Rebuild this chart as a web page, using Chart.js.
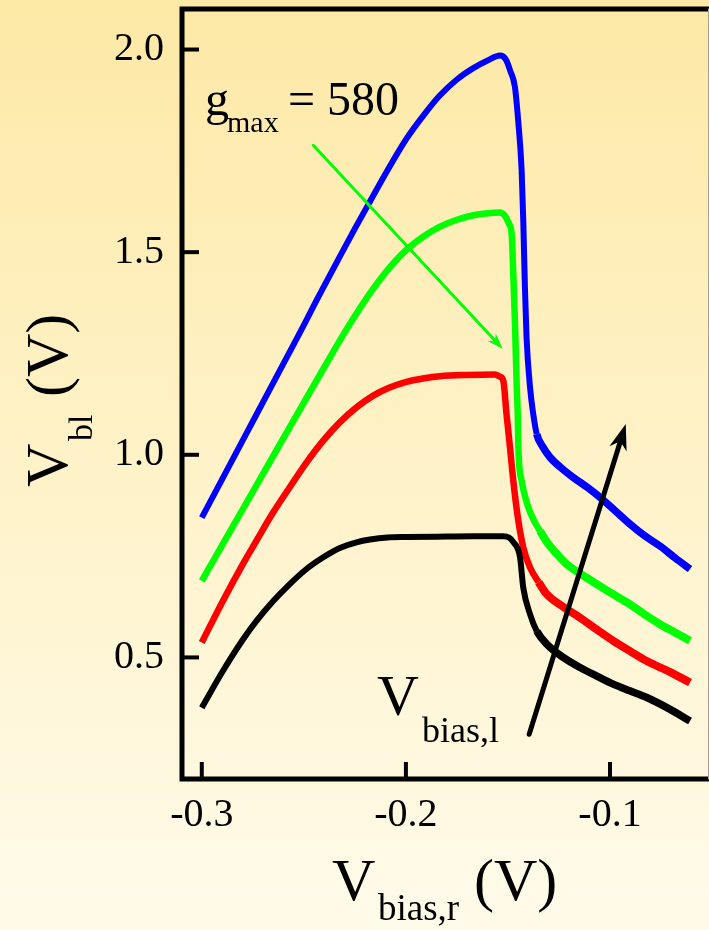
<!DOCTYPE html>
<html>
<head>
<meta charset="utf-8">
<script src="https://cdn.jsdelivr.net/npm/chart.js@4.4.1/dist/chart.umd.min.js"></script>
<style>
  html, body { margin: 0; padding: 0; background: #fff6d8; }
  canvas { display: block; }
</style>
</head>
<body>
<canvas id="c" width="709" height="930"></canvas>
<script>
// V_bl vs V_bias,r for four values of V_bias,l (black -> red -> green -> blue)
var xTicks = [-0.3, -0.2, -0.1];
var yTicks = [0.5, 1.0, 1.5, 2.0];

var blackX = [-0.3000,-0.2896,-0.2800,-0.2732,-0.2650,-0.2569,-0.2490,-0.2405,-0.2324,-0.2242,-0.2176,-0.2090,-0.1997,-0.1850,-0.1670,-0.1523,-0.1495,-0.1474,-0.1441,-0.1425,-0.1392,-0.1359,-0.1310,-0.1229,-0.1147,-0.1065,-0.0984,-0.0900,-0.0820,-0.0710,-0.0608];
var blackY = [0.376,0.467,0.543,0.590,0.639,0.681,0.717,0.747,0.770,0.784,0.791,0.796,0.797,0.798,0.799,0.799,0.796,0.785,0.747,0.672,0.607,0.565,0.533,0.500,0.475,0.454,0.434,0.417,0.401,0.373,0.343];

var redX = [-0.3000,-0.2896,-0.2800,-0.2732,-0.2650,-0.2569,-0.2490,-0.2405,-0.2324,-0.2242,-0.2160,-0.2080,-0.1997,-0.1910,-0.1833,-0.1700,-0.1564,-0.1540,-0.1523,-0.1507,-0.1490,-0.1474,-0.1453,-0.1425,-0.1392,-0.1350,-0.1310,-0.1230,-0.1147,-0.1065,-0.0984,-0.0900,-0.0820,-0.0710,-0.0608];
var redY = [0.537,0.640,0.729,0.788,0.858,0.920,0.979,1.035,1.080,1.117,1.146,1.166,1.180,1.189,1.194,1.197,1.198,1.193,1.183,1.100,1.018,0.936,0.850,0.771,0.722,0.686,0.656,0.625,0.598,0.569,0.541,0.515,0.491,0.465,0.438];

var greenX = [-0.3000,-0.2900,-0.2800,-0.2700,-0.2600,-0.2500,-0.2400,-0.2300,-0.2230,-0.2160,-0.2080,-0.1997,-0.1910,-0.1833,-0.1750,-0.1670,-0.1600,-0.1540,-0.1515,-0.1495,-0.1482,-0.1474,-0.1466,-0.1457,-0.1452,-0.1449,-0.1433,-0.1400,-0.1370,-0.1343,-0.1310,-0.1260,-0.1212,-0.1140,-0.1065,-0.0985,-0.0902,-0.0830,-0.0755,-0.0680,-0.0608];
var greenY = [0.689,0.777,0.865,0.953,1.041,1.129,1.216,1.302,1.358,1.410,1.462,1.506,1.540,1.563,1.580,1.591,1.596,1.598,1.590,1.570,1.545,1.447,1.331,1.167,1.100,1.018,0.936,0.870,0.835,0.812,0.785,0.755,0.730,0.705,0.681,0.656,0.631,0.606,0.582,0.561,0.541];

var blueX = [-0.3000,-0.2900,-0.2800,-0.2700,-0.2600,-0.2500,-0.2438,-0.2324,-0.2250,-0.2176,-0.2090,-0.1997,-0.1910,-0.1833,-0.1750,-0.1670,-0.1600,-0.1539,-0.1510,-0.1490,-0.1466,-0.1450,-0.1433,-0.1425,-0.1417,-0.1409,-0.1392,-0.1376,-0.1359,-0.1330,-0.1294,-0.1240,-0.1180,-0.1110,-0.1049,-0.0975,-0.0902,-0.0830,-0.0750,-0.0680,-0.0608];
var blueY = [0.845,0.940,1.035,1.130,1.225,1.320,1.381,1.489,1.558,1.625,1.702,1.780,1.840,1.887,1.926,1.954,1.973,1.985,1.975,1.949,1.908,1.825,1.702,1.578,1.414,1.290,1.167,1.100,1.051,1.020,0.994,0.968,0.944,0.919,0.895,0.862,0.829,0.800,0.773,0.745,0.718];

// arrows in data coordinates: [x0, y0, x1, y1]
var gArrow = [-0.2454, 1.7636, -0.1526, 1.2614];
var vArrow = [-0.1396, 0.3103, -0.0923, 1.076];

function pts(xs, ys) {
    var out = [];
    for (var i = 0; i < xs.length; i++) out.push({x: xs[i], y: ys[i]});
    return out;
}

function ds(xs, ys, color, w) {
    return {
        data: pts(xs, ys),
        showLine: true,
        borderColor: color,
        backgroundColor: color,
        borderWidth: w,
        pointRadius: 0,
        cubicInterpolationMode: 'monotone',
        borderJoinStyle: 'round',
        // the noisy tails look thicker in the original
        segment: {
            borderWidth: function(c) { return c.p0.parsed.x > -0.137 ? w + 1.5 : w; }
        }
    };
}

var SERIF = '"Liberation Serif", "Times New Roman", serif';

function arrow(ctx, x0, y0, x1, y1, w, headLen, headW, color) {
    var a = Math.atan2(y1 - y0, x1 - x0);
    ctx.save();
    ctx.strokeStyle = color;
    ctx.fillStyle = color;
    ctx.lineWidth = w;
    ctx.lineCap = 'round';
    ctx.beginPath();
    ctx.moveTo(x0, y0);
    ctx.lineTo(x1 - Math.cos(a) * headLen * 0.6, y1 - Math.sin(a) * headLen * 0.6);
    ctx.stroke();
    ctx.translate(x1, y1);
    ctx.rotate(a);
    ctx.beginPath();
    ctx.moveTo(0, 0);
    ctx.lineTo(-headLen, headW / 2);
    ctx.lineTo(-headLen * 0.7, 0);
    ctx.lineTo(-headLen, -headW / 2);
    ctx.closePath();
    ctx.fill();
    ctx.restore();
}

function noEdgePadding(s) {
    s.paddingTop = 0;
    s.paddingBottom = 0;
    s.paddingLeft = 0;
    s.paddingRight = 0;
}

var decor = {
    id: 'decor',
    beforeDraw: function(chart) {
        var ctx = chart.ctx;
        var g = ctx.createLinearGradient(0, 0, 0, chart.height);
        g.addColorStop(0, '#fde9a6');
        g.addColorStop(1, '#fffbea');
        ctx.save();
        ctx.fillStyle = g;
        ctx.fillRect(0, 0, chart.width, chart.height);
        ctx.restore();
    },
    afterDraw: function(chart) {
        var ctx = chart.ctx;
        var a = chart.chartArea;
        var xs = chart.scales.x, ys = chart.scales.y;
        ctx.save();

        // frame
        ctx.strokeStyle = '#000';
        ctx.lineWidth = 5;
        ctx.lineCap = 'square';
        ctx.beginPath();
        ctx.moveTo(a.right + 2, a.top);
        ctx.lineTo(a.left, a.top);
        ctx.lineTo(a.left, a.bottom);
        ctx.lineTo(a.right + 2, a.bottom);
        ctx.stroke();
        ctx.lineWidth = 1;
        ctx.strokeStyle = '#a89f86';
        ctx.beginPath();
        ctx.moveTo(a.right + 0.5, a.top);
        ctx.lineTo(a.right + 0.5, a.bottom);
        ctx.stroke();

        // inward ticks
        ctx.strokeStyle = '#000';
        ctx.lineWidth = 4;
        ctx.lineCap = 'butt';
        yTicks.forEach(function(v) {
            var p = ys.getPixelForValue(v);
            ctx.beginPath();
            ctx.moveTo(a.left, p);
            ctx.lineTo(a.left + 17, p);
            ctx.stroke();
        });
        xTicks.forEach(function(v) {
            var p = xs.getPixelForValue(v);
            ctx.beginPath();
            ctx.moveTo(p, a.bottom);
            ctx.lineTo(p, a.bottom - 17);
            ctx.stroke();
        });

        // arrows
        arrow(ctx, xs.getPixelForValue(gArrow[0]), ys.getPixelForValue(gArrow[1]),
              xs.getPixelForValue(gArrow[2]), ys.getPixelForValue(gArrow[3]), 3, 16, 11, '#00ff00');
        arrow(ctx, xs.getPixelForValue(vArrow[0]), ys.getPixelForValue(vArrow[1]),
              xs.getPixelForValue(vArrow[2]), ys.getPixelForValue(vArrow[3]), 5, 26, 18, '#000');

        // annotations
        ctx.fillStyle = '#000';
        ctx.textBaseline = 'alphabetic';
        ctx.textAlign = 'left';
        ctx.font = '48px ' + SERIF;
        ctx.fillText('g', 205, 115);
        ctx.fillText('= 580', 288, 115);
        ctx.font = '30px ' + SERIF;
        ctx.fillText('max', 227, 132);

        ctx.font = '58px ' + SERIF;
        ctx.fillText('V', 377, 715);
        ctx.font = '36px ' + SERIF;
        ctx.fillText('bias,l', 422, 742);

        // x axis title
        ctx.font = '60px ' + SERIF;
        ctx.fillText('V', 332, 900);
        ctx.fillText('(V)', 474, 900);
        ctx.font = '37px ' + SERIF;
        ctx.fillText('bias,r', 378, 920);

        // y axis title (rotated)
        ctx.rotate(-Math.PI / 2);
        ctx.font = '60px ' + SERIF;
        ctx.fillText('V', -487, 67);
        ctx.fillText('(V)', -397, 67);
        ctx.font = '34px ' + SERIF;
        ctx.fillText('bl', -441, 92);

        ctx.restore();
    }
};

var ctx = document.getElementById('c').getContext('2d');
var chart = new Chart(ctx, {
    type: 'scatter',
    data: {
        datasets: [
            ds(blackX, blackY, '#000000', 6),
            ds(redX, redY, '#ff0000', 6.5),
            ds(greenX, greenY, '#00ff00', 6.5),
            ds(blueX, blueY, '#0000ff', 6)
        ]
    },
    options: {
        responsive: false,
        animation: false,
        layout: { padding: { top: 9, right: 1, left: 0, bottom: 0 } },
        plugins: { legend: { display: false }, tooltip: { enabled: false } },
        scales: {
            x: {
                type: 'linear',
                min: -0.3097,
                max: -0.052,
                afterFit: function(s) { s.height = 151; noEdgePadding(s); },
                afterBuildTicks: function(s) { s.ticks = xTicks.map(function(v) { return {value: v}; }); },
                grid: { display: false, drawTicks: false },
                border: { display: false },
                ticks: {
                    padding: 12,
                    color: '#000',
                    font: { family: SERIF, size: 40 },
                    maxRotation: 0,
                    callback: function(v) { return v.toFixed(1); }
                }
            },
            y: {
                type: 'linear',
                min: 0.2,
                max: 2.1,
                afterFit: function(s) { s.width = 182; noEdgePadding(s); },
                afterBuildTicks: function(s) { s.ticks = yTicks.map(function(v) { return {value: v}; }); },
                grid: { display: false, drawTicks: false },
                border: { display: false },
                ticks: {
                    padding: 18,
                    color: '#000',
                    font: { family: SERIF, size: 40 },
                    callback: function(v) { return v.toFixed(1); }
                }
            }
        }
    },
    plugins: [decor]
});
</script>
</body>
</html>
